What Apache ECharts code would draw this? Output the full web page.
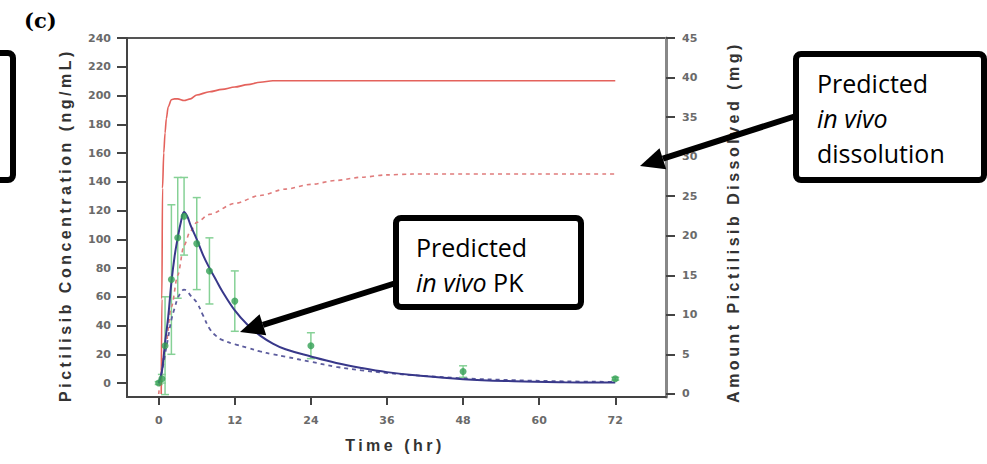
<!DOCTYPE html>
<html>
<head>
<meta charset="utf-8">
<script src="https://cdn.jsdelivr.net/npm/echarts@6.0.0/dist/echarts.min.js"></script>
<style>
  html, body { margin: 0; padding: 0; background: #fff; }
  #main { width: 987px; height: 464px; }
  /* axis titles in the figure are letter-spaced */
  #main text[style*="Liberation Sans"], #main text[font-family*="Liberation Sans"] { letter-spacing: 3.5px; }
</style>
</head>
<body>
<div id="main"></div>
<script>
// observed pictilisib concentrations (ng/mL), mean and SD
var obsTime = [0, 0.5, 1, 2, 3, 4, 6, 8, 12, 24, 48, 72];
var obsConc = [0, 3, 26, 72, 101, 116, 97, 78, 57, 26, 8, 3];
var obsSd   = [1, 3, 34, 52, 42, 27, 32, 23, 21, 9, 4, 1];

// predicted in vivo PK (ng/mL)
var pkTime   = [0, 0.5, 1, 1.5, 2, 2.5, 3, 3.5, 4, 4.5, 5, 6, 7, 8, 9, 10, 12, 14, 16, 18, 20, 24, 28, 32, 36, 40, 48, 56, 64, 72];
var pkSolid  = [0, 8, 28, 46, 70, 88, 101, 112, 119, 116, 110, 100, 89, 80, 72, 64, 50.5, 40.5, 33, 27.5, 23.5, 18.5, 14, 10.5, 7.6, 5.6, 2.7, 1.3, 0.6, 0.3];
var pkDashed = [0, 8, 20, 32, 44, 52, 59, 63, 65, 64, 61, 56, 47, 38, 33, 30, 27, 24.5, 22, 20, 18.3, 14.8, 11.3, 8.8, 7, 5.5, 3.3, 2, 1.2, 0.8];

// predicted in vivo dissolution (mg)
var dissTime  = [0.4, 0.5, 0.6, 0.8, 1, 1.2, 1.5, 2, 2.5, 3, 4, 5, 6, 8, 10, 12, 14, 16, 18, 24, 36, 48, 60, 72];
var dissSolid = [0, 12, 26, 30.5, 33, 34.8, 36.3, 37.2, 37.3, 37.3, 37.1, 37.3, 37.8, 38.2, 38.5, 38.8, 39.1, 39.4, 39.6, 39.6, 39.6, 39.6, 39.6, 39.6];
var dissDashTime = [0, 1, 2, 3, 4, 5, 6, 8, 12, 16, 20, 24, 28, 32, 36, 40, 48, 60, 72];
var dissDashed   = [0, 5.5, 11, 15, 18.8, 20.6, 21.7, 22.7, 24.1, 25.1, 25.9, 26.5, 27, 27.4, 27.7, 27.8, 27.8, 27.8, 27.8];

// tick labels
var xTicks = [0, 12, 24, 36, 48, 60, 72];
var concTicks = [0, 20, 40, 60, 80, 100, 120, 140, 160, 180, 200, 220, 240];
var massTicks = [0, 5, 10, 15, 20, 25, 30, 35, 40, 45];

var chartDom = document.getElementById('main');
var myChart = echarts.init(chartDom, null, { renderer: 'svg' });

function pairs(xs, ys) {
    return xs.map(function (x, i) { return [x, ys[i]]; });
}

var errData = obsTime.map(function (t, i) {
    return [t, obsConc[i] - obsSd[i], obsConc[i] + obsSd[i]];
});

var tickLabel = { color: '#6a6a6a', fontWeight: 'bold', fontFamily: 'DejaVu Sans', fontSize: 11 };

// thick black arrow, tip at (x2, y2)
function arrow(x1, y1, x2, y2) {
    var ang = Math.atan2(y2 - y1, x2 - x1), len = 24, half = 11;
    var bx = x2 - len * Math.cos(ang), by = y2 - len * Math.sin(ang);
    var px = -Math.sin(ang) * half, py = Math.cos(ang) * half;
    return [
        { type: 'line', z: 100, shape: { x1: x1, y1: y1, x2: bx, y2: by }, style: { stroke: '#000', lineWidth: 6 } },
        { type: 'polygon', z: 100, shape: { points: [[x2, y2], [bx + px, by + py], [bx - px, by - py]] }, style: { fill: '#000' } }
    ];
}

var boxText = { font: '25px Open Sans', fill: '#000', lineHeight: 35, verticalAlign: 'top',
    rich: { i: { fontStyle: 'italic', fontSize: 25, fontFamily: 'Open Sans', lineHeight: 35, color: '#000' } } };

var graphics = [
    { type: 'text', x: 24, y: 9, z: 100,
      style: { text: '{c|(c)}', verticalAlign: 'top',
               rich: { c: { fontSize: 21, fontWeight: 'bold', fontFamily: 'DejaVu Serif', color: '#222', lineHeight: 22 } } } },
    { type: 'text', x: 65, y: 225, rotation: Math.PI / 2, z: 100,
      style: { text: 'Pictilisib Concentration (ng/mL)', font: 'bold 16px Liberation Sans', fill: '#333', align: 'center', verticalAlign: 'middle' } },
    { type: 'text', x: 733, y: 222, rotation: Math.PI / 2, z: 100,
      style: { text: 'Amount Pictilisib Dissolved (mg)', font: 'bold 16px Liberation Sans', fill: '#333', align: 'center', verticalAlign: 'middle' } },
    { type: 'text', x: 395, y: 445, z: 100,
      style: { text: 'Time (hr)', font: 'bold 16px Liberation Sans', fill: '#333', align: 'center', verticalAlign: 'middle' } },
    // cut-off box at the left edge
    { type: 'rect', z: 100, shape: { x: -20, y: 53, width: 33, height: 127, r: 5 }, style: { fill: '#fff', stroke: '#000', lineWidth: 6 } },
    // dissolution callout
    { type: 'rect', z: 100, shape: { x: 796, y: 54, width: 188, height: 126, r: 5 }, style: { fill: '#fff', stroke: '#000', lineWidth: 6 } },
    { type: 'text', x: 817, y: 65, z: 101, style: Object.assign({ text: 'Predicted\n{i|in vivo}\ndissolution' }, boxText) },
    // PK callout
    { type: 'rect', z: 100, shape: { x: 396, y: 218, width: 185, height: 89, r: 5 }, style: { fill: '#fff', stroke: '#000', lineWidth: 6 } },
    { type: 'text', x: 416, y: 229, z: 101, style: Object.assign({ text: 'Predicted\n{i|in vivo} PK' }, boxText) }
].concat(arrow(796, 116, 640, 166), arrow(396, 283, 240, 332));

var option = {
    animation: false,
    backgroundColor: '#fff',
    grid: { left: 127, right: 321, top: 38, bottom: 67, show: true, borderColor: '#555', borderWidth: 2 },
    xAxis: {
        type: 'value', min: -5, max: 80,
        axisLine: { onZero: false, lineStyle: { color: '#444', width: 2 } },
        axisTick: { show: true, customValues: xTicks, length: 8, lineStyle: { color: '#444', width: 2 } },
        axisLabel: Object.assign({ customValues: xTicks, margin: 18 }, tickLabel),
        splitLine: { show: false }
    },
    yAxis: [
        {
            type: 'value', min: -9.7, max: 240, position: 'left',
            axisLine: { show: true, onZero: false, lineStyle: { color: '#444', width: 2 } },
            axisTick: { show: true, customValues: concTicks, length: 10, lineStyle: { color: '#444', width: 2 } },
            axisLabel: Object.assign({ customValues: concTicks, margin: 16 }, tickLabel),
            splitLine: { show: false }
        },
        {
            type: 'value', min: -0.38, max: 45, position: 'right',
            axisLine: { show: true, onZero: false, lineStyle: { color: '#888', width: 3 } },
            axisTick: { show: true, customValues: massTicks, length: 9, lineStyle: { color: '#444', width: 2 } },
            axisLabel: Object.assign({ customValues: massTicks, margin: 16 }, tickLabel),
            splitLine: { show: false }
        }
    ],
    series: [
        {
            name: 'error bars',
            type: 'custom',
            yAxisIndex: 0,
            data: errData,
            z: 1,
            renderItem: function (params, api) {
                var x = api.value(0);
                var lo = api.coord([x, api.value(1)]);
                var hi = api.coord([x, api.value(2)]);
                var w = 4;
                var st = { stroke: '#86d196', lineWidth: 1.5 };
                return {
                    type: 'group',
                    children: [
                        { type: 'line', shape: { x1: hi[0], y1: hi[1], x2: lo[0], y2: lo[1] }, style: st },
                        { type: 'line', shape: { x1: hi[0] - w, y1: hi[1], x2: hi[0] + w, y2: hi[1] }, style: st },
                        { type: 'line', shape: { x1: lo[0] - w, y1: lo[1], x2: lo[0] + w, y2: lo[1] }, style: st }
                    ]
                };
            }
        },
        {
            name: 'dissolution', type: 'line', yAxisIndex: 1, data: pairs(dissTime, dissSolid),
            showSymbol: false, smooth: 0.3, smoothMonotone: 'x',
            lineStyle: { color: '#e4625c', width: 1.6 }
        },
        {
            name: 'dissolution 2', type: 'line', yAxisIndex: 1, data: pairs(dissDashTime, dissDashed),
            showSymbol: false, smooth: 0.3, smoothMonotone: 'x',
            lineStyle: { color: '#e07c7c', width: 1.6, type: [4, 4] }
        },
        {
            name: 'PK 2', type: 'line', yAxisIndex: 0, data: pairs(pkTime, pkDashed),
            showSymbol: false, smooth: 0.4,
            lineStyle: { color: '#5d5d9e', width: 1.8, type: [4, 4] }
        },
        {
            name: 'PK', type: 'line', yAxisIndex: 0, data: pairs(pkTime, pkSolid),
            showSymbol: false, smooth: 0.4,
            lineStyle: { color: '#38388a', width: 2 }
        },
        {
            name: 'observed', type: 'scatter', yAxisIndex: 0, data: pairs(obsTime, obsConc),
            symbolSize: 7, itemStyle: { color: '#35a055' }, z: 5
        }
    ],
    graphic: graphics
};

option && myChart.setOption(option);
</script>
</body>
</html>
